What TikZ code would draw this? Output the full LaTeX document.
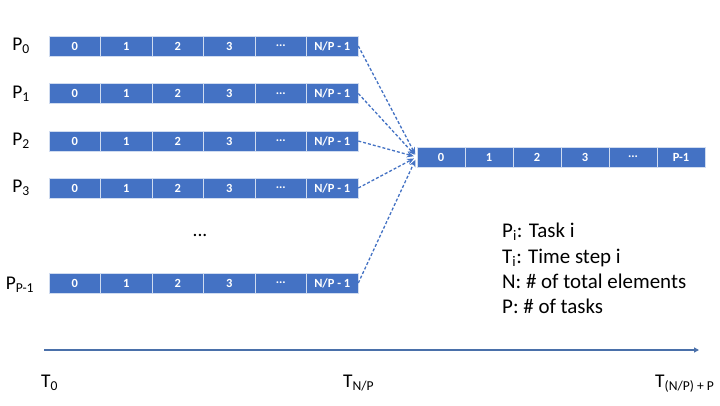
\documentclass[tikz,border=0pt]{standalone}
\usepackage{fontspec}
\setmainfont{Carlito}
\usetikzlibrary{arrows.meta}
\definecolor{cellblue}{HTML}{4472C4}
\definecolor{axisblue}{HTML}{4A70AA}
\newcommand\myellip{...}
\begin{document}
\begin{tikzpicture}[x=1bp,y=-1bp,
 cellbox/.style={fill=cellblue, draw=white!75!cellblue, line width=0.6bp, minimum height=20bp, inner sep=0pt, text=white, font=\fontsize{12.5}{14}\selectfont\bfseries},
 lbl/.style={font=\fontsize{19.5}{22}\selectfont, inner sep=0pt},
 leg/.style={font=\fontsize{21}{24}\selectfont, inner sep=0pt, anchor=base west},
 flow/.style={draw=cellblue, dashed, dash pattern=on 3bp off 2bp, line width=1.3bp, -{Stealth[length=7bp,width=6bp]}, shorten >=3bp},
 axisline/.style={draw=axisblue, line width=1.4bp, -{Triangle[length=5bp,width=5bp]}}]
\path[use as bounding box, fill=white] (0,0) rectangle (720,405);
% source rows
\foreach \r/\y in {0/46,1/93.5,2/141,3/188,4/283}{
  \foreach \t [count=\i] in {0,1,2,3,\myellip,N/P - 1}{
    \node[cellbox, minimum width=51.5bp] (r\r c\i) at ({49+(\i-0.5)*51.5},\y) {\t};
  }
}
% target row
\foreach \t [count=\i] in {0,1,2,3,\myellip,P-1}{
  \node[cellbox, minimum width=48bp] (tc\i) at ({417+(\i-0.5)*48},157) {\t};
}
% row labels
\node[lbl] (p0) at (21,46) {P\textsubscript{0}};
\node[lbl] (p1) at (21,93.5) {P\textsubscript{1}};
\node[lbl] (p2) at (21,141) {P\textsubscript{2}};
\node[lbl] (p3) at (21,188) {P\textsubscript{3}};
\node[lbl] (pp) at (20,285) {P\textsubscript{P-1}};
\node[lbl] (dots) at (200,235) {...};
% arrows
\foreach \r in {0,1,2,3,4}{
  \draw[flow] (r\r c6.east) -- (tc1.west);
}
% legend
\node[leg] (leg1) at (502,237) {P\textsubscript{i}: Task i};
\node[leg] (leg2) at (502,263) {T\textsubscript{i}: Time step i};
\node[leg] (leg3) at (502,288) {N: \# of total elements};
\node[leg] (leg4) at (502,313) {P: \# of tasks};
% time axis
\coordinate (ax0) at (44,350);
\coordinate (ax1) at (699,350);
\draw[axisline] (ax0) -- (ax1);
\node[lbl, anchor=base west] (t0) at (41,387) {T\textsubscript{0}};
\node[lbl, anchor=base west] (tnp) at (343,387) {T\textsubscript{N/P}};
\node[lbl, anchor=base west] (tend) at (655,387) {T\textsubscript{(N/P) + P}};
\end{tikzpicture}
\end{document}
